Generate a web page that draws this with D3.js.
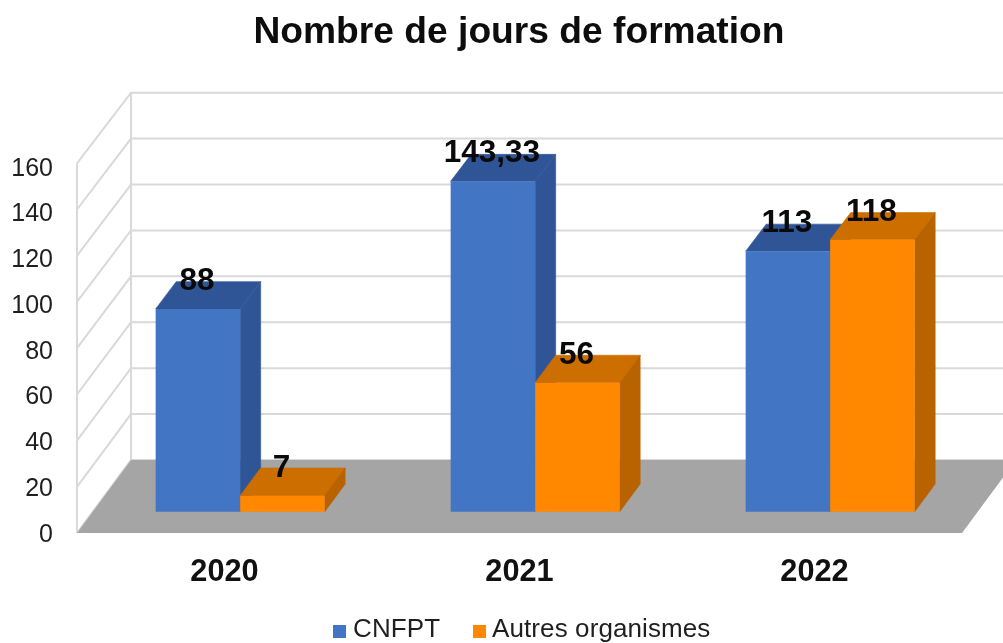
<!DOCTYPE html>
<html><head><meta charset="utf-8">
<script src="https://cdn.jsdelivr.net/npm/d3@7/dist/d3.min.js"></script>
<style>html,body{margin:0;padding:0;background:#fff}svg{display:block;font-family:"Liberation Sans",Arial,sans-serif}</style>
</head><body><svg id="c" width="1003" height="643"></svg>
<script>
const title = "Nombre de jours de formation";
const categories = ["2020","2021","2022"];
const seriesNames = ["CNFPT","Autres organismes"];
const cnfpt = [88,143.33,113];
const autres = [7,56,118];
const cnfptLabels = ["88","143,33","113"];
const autresLabels = ["7","56","118"];
const yTicks = [0,20,40,60,80,100,120,140,160];

const svg = d3.select("#c");
const x = d3.scaleBand().domain(categories).range([77,962]);
const y = d3.scaleLinear().domain([0,160]).range([533,163.3]);
const yBack = d3.scaleLinear().domain([0,160]).range([460,92.7]);
const yLabel = d3.scaleLinear().domain([0,160]).range([532,166]);
const depthX = d3.scaleLinear().domain([0,1]).range([0,54]);
const P = (px,v,d)=>[px+depthX(d), y(v)+(yBack(v)-y(v))*d];
const line = d3.line();
const root = svg.append("g").style("filter","blur(0.45px)");

// walls
const grid = root.append("g").attr("fill","none").attr("stroke","#d9d9d9").attr("stroke-width",2);
grid.selectAll("path.g").data(yTicks).join("path").attr("class","g")
  .attr("d",v=>line([P(77,v,0),P(77,v,1),[1003,P(77,v,1)[1]]]));
grid.append("path").attr("d",line([P(77,0,0),P(77,160,0)]));
grid.append("path").attr("d",line([P(77,0,1),P(77,160,1)]));

// floor
root.append("path").attr("fill","#a5a5a5")
  .attr("d",line([P(77,0,0),P(77,0,1),P(962,0,1),P(962,0,0)])+"Z");

// bars
const d0=0.29,d1=0.67;
const barW=84.5;
const groups=[
 {vals:cnfpt,labels:cnfptLabels,off:0,front:"#4276c4",top:"#2f5597",side:"#2f5597"},
 {vals:autres,labels:autresLabels,off:barW,front:"#ff8800",top:"#cc6e00",side:"#b86200"}
];
const bars=[];
categories.forEach((c,i)=>groups.forEach(g=>bars.push({c,v:g.vals[i],label:g.labels[i],off:g.off,g})));
const bg=root.selectAll("g.bar").data(bars).join("g").attr("class","bar");
const L=d=>x(d.c)+d.off+(x.bandwidth()-2*barW)/2;
bg.append("path").attr("fill",d=>d.g.top).attr("stroke",d=>d.g.top).attr("stroke-width",0.6)
  .attr("d",d=>line([P(L(d),d.v,d0),P(L(d),d.v,d1),P(L(d)+barW,d.v,d1),P(L(d)+barW,d.v,d0)])+"Z");
bg.append("path").attr("fill",d=>d.g.side).attr("stroke",d=>d.g.side).attr("stroke-width",0.6)
  .attr("d",d=>line([P(L(d)+barW,0,d0),P(L(d)+barW,d.v,d0),P(L(d)+barW,d.v,d1),P(L(d)+barW,0,d1)])+"Z");
bg.append("path").attr("fill",d=>d.g.front)
  .attr("d",d=>line([P(L(d),0,d0),P(L(d),d.v,d0),P(L(d)+barW,d.v,d0),P(L(d)+barW,0,d0)])+"Z");

// data labels
root.selectAll("text.dl").data(bars).join("text").attr("class","dl")
  .attr("x",d=>P(L(d)+barW/2,d.v,d0)[0]-1)
  .attr("y",d=>P(L(d),d.v,d0)[1]-19)
  .attr("text-anchor","middle").attr("font-size",31.5).attr("font-weight","bold").attr("fill","#0a0a0a")
  .text(d=>d.label);

// y axis
const yAxis=root.append("g").attr("transform","translate(53,0)")
  .call(d3.axisLeft(yLabel).tickValues(yTicks).tickSize(0).tickPadding(0).tickFormat(d3.format("d")));
yAxis.select(".domain").remove();
yAxis.selectAll("text").attr("font-size",25).attr("font-family","'Liberation Sans',Arial,sans-serif").attr("fill","#1f1f1f").attr("dy","0.36em");

// x axis
const xAxis=root.append("g").attr("transform","translate(0,533)")
  .call(d3.axisBottom(x).tickSize(0).tickPadding(0));
xAxis.select(".domain").remove();
xAxis.selectAll("text").attr("font-size",30.7).attr("font-weight","bold").attr("font-family","'Liberation Sans',Arial,sans-serif").attr("fill","#111").attr("y",48).attr("dy",0);

// title
root.append("text").attr("x",519).attr("y",43).attr("text-anchor","middle")
  .attr("font-size",37.2).attr("font-weight","bold").attr("fill","#0d0d0d").text(title);

// legend
const legendX=[333,473], legendColors=["#4276c4","#ff8800"], legendText=[353,492];
const leg=root.selectAll("g.leg").data(seriesNames).join("g").attr("class","leg");
leg.append("rect").attr("x",(d,i)=>legendX[i]).attr("y",625).attr("width",13).attr("height",13).attr("fill",(d,i)=>legendColors[i]);
leg.append("text").attr("x",(d,i)=>legendText[i]).attr("y",637).attr("font-size",26).attr("letter-spacing",0.1).attr("fill","#1f1f1f").text(d=>d);
</script></body></html>
